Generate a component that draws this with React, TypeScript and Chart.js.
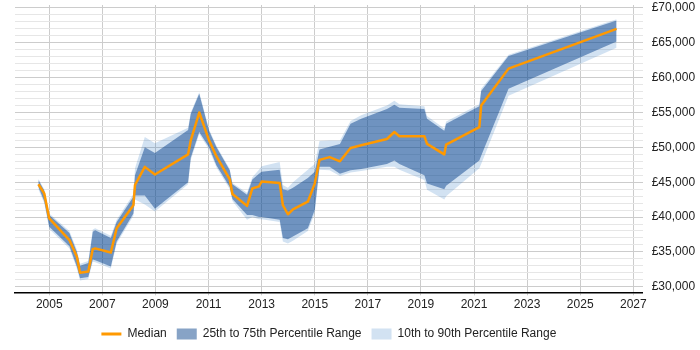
import React, { useEffect, useRef } from "react";
import { Chart, registerables } from "chart.js";

Chart.register(...registerables);

// Sample dates (decimal years) and salary percentiles at each date
const years = [
  2004.59, 2004.81, 2005.0, 2005.76, 2006.04, 2006.16, 2006.47, 2006.64, 2006.73, 2007.32,
  2007.54, 2008.17, 2008.23, 2008.6, 2008.98, 2010.23, 2010.33, 2010.65, 2011.02, 2011.3,
  2011.8, 2011.9, 2012.45, 2012.65, 2012.9, 2013.0, 2013.68, 2013.8, 2013.99, 2014.18,
  2014.74, 2015.0, 2015.18, 2015.56, 2015.95, 2016.35, 2016.75, 2017.72, 2018.0, 2018.19,
  2019.13, 2019.23, 2019.88, 2019.95, 2021.2, 2021.27, 2022.3, 2026.37,
];

const median = [
  44700, 43400, 39800, 36700, 34300, 32000, 32200, 35400, 35500, 34900,
  38400, 41700, 44600, 47200, 46100, 49000, 51000, 55000, 51000, 48700,
  45400, 43300, 41600, 44100, 44400, 45100, 44900, 41700, 40400, 41100,
  42200, 44800, 48200, 48600, 48000, 49900, 50300, 51200, 52200, 51600,
  51600, 50500, 49000, 50400, 52900, 56000, 61300, 67000,
];

const p10 = [
  44000, 42000, 38300, 35500, 32600, 30900, 31100, 33600, 33500, 32600,
  36200, 40200, 42500, 41800, 40800, 44700, 48200, 51900, 49700, 47100,
  44000, 42300, 39600, 40000, 39700, 39700, 39300, 36500, 36200, 36600,
  38000, 40500, 46800, 46700, 45900, 46400, 46600, 47200, 47200, 46800,
  45300, 43900, 42500, 43000, 47000, 47600, 57400, 64300,
];

const p25 = [
  44300, 42300, 38600, 35800, 32900, 31200, 31400, 33900, 33800, 32900,
  36500, 40500, 43100, 43100, 41200, 45000, 48500, 52200, 50000, 47400,
  44300, 42600, 40300, 40300, 40000, 40000, 39600, 37000, 36800, 37200,
  38400, 41000, 47200, 47200, 46200, 46700, 46900, 47600, 48100, 47600,
  46000, 44800, 44000, 44500, 48100, 48800, 58400, 65200,
];

const p75 = [
  45300, 43800, 40300, 37700, 35000, 33000, 33400, 37900, 38100, 37000,
  39300, 42900, 46000, 50000, 49200, 52500, 54800, 57700, 52400, 50000,
  46700, 44700, 43200, 45400, 46200, 46500, 46800, 44000, 43800, 44200,
  45600, 46500, 49700, 50100, 50500, 53400, 54100, 55500, 56100, 55700,
  55500, 54100, 52400, 53400, 55900, 58100, 63100, 68200,
];

const p90 = [
  45500, 44000, 40500, 38000, 35300, 33300, 33700, 38200, 38400, 37300,
  39600, 43300, 47000, 51500, 50600, 52800, 55000, 57900, 52600, 50200,
  46900, 44900, 43500, 45700, 46800, 47300, 47900, 44600, 44200, 45000,
  46800, 47600, 50900, 51000, 51000, 53800, 54600, 56000, 56700, 56200,
  55900, 54500, 52700, 53700, 56200, 58400, 63300, 68400,
];

const xTicks = [2005, 2007, 2009, 2011, 2013, 2015, 2017, 2019, 2021, 2023, 2025, 2027];
const yMajorStep = 5000;
const yMinorStep = 1000;

const ORANGE = "#ff9900";
const DARK_FILL = "rgba(0, 60, 135, 0.47)";
const DARK_KEY = "#87a3c6";
const LIGHT_FILL = "rgba(30, 110, 190, 0.2)";
const LIGHT_KEY = "#d2e2f2";
const FONT = { family: "'Liberation Sans', Arial, sans-serif", size: 12 };
const TEXT = "#222222";

const pts = (arr: number[]) => years.map((x, i) => ({ x, y: arr[i] }));

export default function App() {
  const ref = useRef<HTMLCanvasElement | null>(null);

  useEffect(() => {
    document.body.style.margin = "0";
    const canvas = ref.current;
    if (!canvas) return;

    const band = { pointRadius: 0, borderWidth: 0, tension: 0 };

    const chart = new Chart(canvas, {
      type: "line",
      data: {
        datasets: [
          {
            label: "Median",
            data: pts(median),
            borderColor: ORANGE,
            backgroundColor: ORANGE,
            borderWidth: 2.5,
            borderJoinStyle: "round",
            pointRadius: 0,
            tension: 0,
            fill: false,
          },
          { label: "p25", data: pts(p25), ...band, borderColor: "transparent", fill: false },
          {
            label: "25th to 75th Percentile Range",
            data: pts(p75),
            ...band,
            borderColor: "transparent",
            backgroundColor: DARK_FILL,
            fill: "-1",
          },
          { label: "p10", data: pts(p10), ...band, borderColor: "transparent", fill: false },
          {
            label: "10th to 90th Percentile Range",
            data: pts(p90),
            ...band,
            borderColor: "transparent",
            backgroundColor: LIGHT_FILL,
            fill: "-1",
          },
        ],
      },
      options: {
        responsive: false,
        animation: false,
        events: [],
        layout: { padding: { left: 15, right: 0, top: 5, bottom: 0 } },
        plugins: {
          tooltip: { enabled: false },
          legend: {
            position: "bottom",
            fullSize: false,
            labels: {
              usePointStyle: true,
              pointStyleWidth: 20,
              boxWidth: 20,
              boxHeight: 11,
              padding: 10,
              color: TEXT,
              font: FONT,
              generateLabels: () => [
                {
                  text: "Median",
                  pointStyle: "line",
                  strokeStyle: ORANGE,
                  fillStyle: ORANGE,
                  lineWidth: 3,
                  hidden: false,
                  datasetIndex: 0,
                  fontColor: TEXT,
                },
                {
                  text: "25th to 75th Percentile Range",
                  pointStyle: "rect",
                  strokeStyle: DARK_KEY,
                  fillStyle: DARK_KEY,
                  lineWidth: 0,
                  hidden: false,
                  datasetIndex: 2,
                  fontColor: TEXT,
                },
                {
                  text: "10th to 90th Percentile Range",
                  pointStyle: "rect",
                  strokeStyle: LIGHT_KEY,
                  fillStyle: LIGHT_KEY,
                  lineWidth: 0,
                  hidden: false,
                  datasetIndex: 4,
                  fontColor: TEXT,
                },
              ],
            },
          },
        },
        scales: {
          x: {
            type: "linear",
            min: 2003.71,
            max: 2027.354,
            afterBuildTicks: (scale: any) => {
              scale.ticks = xTicks.map((v) => ({ value: v }));
            },
            afterFit: (scale: any) => {
              scale.height = 25.7;
              scale.paddingLeft = 0;
              scale.paddingRight = 0;
            },
            grid: { color: "#cccccc", drawTicks: true, tickLength: 3 },
            border: { display: true, color: "#000000", width: 1.5 },
            ticks: {
              autoSkip: false,
              maxRotation: 0,
              padding: 2,
              color: TEXT,
              font: FONT,
              callback: (v: any) => String(v),
            },
          },
          y: {
            type: "linear",
            position: "right",
            min: 29200,
            max: 70430,
            afterBuildTicks: (scale: any) => {
              const t = [];
              for (let v = 30000; v <= 70000; v += yMinorStep) t.push({ value: v });
              scale.ticks = t;
            },
            afterFit: (scale: any) => {
              scale.width = 57.3;
              scale.paddingTop = 0;
              scale.paddingBottom = 0;
            },
            grid: {
              drawTicks: false,
              color: (c: any) =>
                c.tick && c.tick.value % yMajorStep === 0 ? "#cccccc" : "#e6e6e6",
            },
            border: { display: false },
            ticks: {
              autoSkip: false,
              padding: 9,
              color: TEXT,
              font: FONT,
              callback: (v: any) =>
                Number(v) % yMajorStep === 0 ? "£" + Number(v).toLocaleString("en-GB") : "",
            },
          },
        },
      },
    } as any);

    return () => chart.destroy();
  }, []);

  return (
    <div style={{ width: 700, height: 350 }}>
      <canvas ref={ref} width={700} height={350} />
    </div>
  );
}
